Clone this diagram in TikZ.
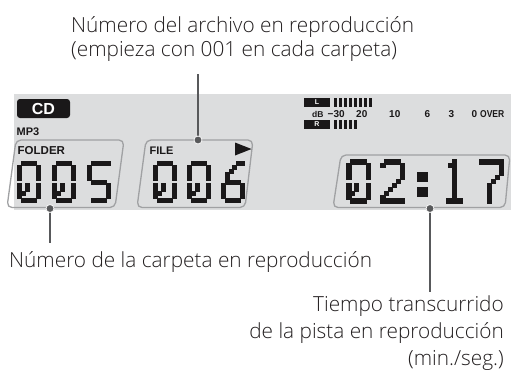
\documentclass[tikz,border=0pt]{standalone}
\usepackage{fontspec}
\setmainfont{Open Sans Light}
\newfontfamily\lcdfont{Liberation Sans}
\definecolor{lcdbg}{RGB}{220,221,222}
\definecolor{frame}{RGB}{160,161,163}
\definecolor{seg}{RGB}{26,24,25}
\definecolor{conn}{RGB}{88,89,91}
\definecolor{txt}{RGB}{35,31,32}
\newcommand\lcddigit[4]{%
  \begin{scope}[shift={(#1,#2)}]
    \foreach \c/\r in {#4} \fill[seg] (\c*#3-0.6,\r*#3-0.6) rectangle ++(#3+1.2,#3+1.2);
  \end{scope}}
\tikzset{
  lbl/.style={inner sep=0pt, font=\fontsize{20.8}{22}\selectfont, text=txt},
  lcdtxt/.style={inner sep=0pt, font=\lcdfont\bfseries, text=seg},
  lcdframe/.style={draw=frame, line width=1.3pt, rounded corners=5pt},
  conline/.style={draw=conn, line width=2.2pt},
  condot/.style={circle, fill=conn, draw=white!80!lcdbg, line width=0.8pt, minimum size=8pt, inner sep=0pt},
}
\begin{document}
\begin{tikzpicture}[x=1pt,y=-1pt]
\useasboundingbox (0,0) rectangle (511,376);
% LCD background
\fill[lcdbg] (14,94) rectangle (511,210);
% frames
\draw[lcdframe] (16,140) -- (124,140) -- (115,207.5) -- (7,207.5) -- cycle;
\draw[lcdframe] (146,140) -- (253,140) -- (245,207.5) -- (137,207.5) -- cycle;
\draw[lcdframe] (341,155) -- (510,155) -- (505,207.5) -- (333,207.5) -- cycle;
% CD badge
\fill[seg, rounded corners=3pt] (17,99) rectangle (70,118);
\node[lcdtxt, text=white, font=\lcdfont\bfseries\fontsize{16}{16}\selectfont] (cd) at (43.5,108.7) {CD};
\node[lcdtxt, anchor=base west, font=\lcdfont\bfseries\fontsize{11}{11}\selectfont] (mp3) at (16.5,135.5) {MP3};
\node[lcdtxt, anchor=base west, font=\lcdfont\bfseries\fontsize{11.5}{11}\selectfont] (folder) at (17.5,154.5) {FOLDER};
\node[lcdtxt, anchor=base west, font=\lcdfont\bfseries\fontsize{11}{11}\selectfont] (file) at (149.5,154.5) {FILE};
\fill[seg] (235,142.5) -- (251.5,149) -- (235,155.5) -- cycle;
% level meter
\fill[seg] (304,98) rectangle (330,106.5);
\node[lcdtxt, text=white, font=\lcdfont\bfseries\fontsize{7}{7}\selectfont] (lL) at (317,102.4) {L};
\foreach \i in {0,...,7} \fill[seg] (334+\i*5,98) rectangle ++(2.8,8.5);
\fill[seg] (304,120) rectangle (330,128.5);
\node[lcdtxt, text=white, font=\lcdfont\bfseries\fontsize{7}{7}\selectfont] (lR) at (317,124.4) {R};
\foreach \i in {0,...,4} \fill[seg] (334+\i*5,120) rectangle ++(2.8,8.5);
\begin{scope}[every node/.style={lcdtxt, anchor=base west, font=\lcdfont\bfseries\fontsize{10}{10}\selectfont}]
\node (db) at (312,117.5) {\fontsize{8.5}{8}\selectfont dB};
\node (m30) at (327.5,117.5) {\textminus30};
\node (s20) at (356,117.5) {20};
\node (s10) at (389,117.5) {10};
\node (s6) at (424.5,117.5) {6};
\node (s3) at (448.5,117.5) {3};
\node (s0) at (471.5,117.5) {0};
\node[xscale=0.85] (sover) at (480,117.5) {OVER};
\end{scope}
% digits: folder 005
\lcddigit{18}{162}{3.67}{1/0,2/0,3/0,4/0, 0/1,0/2,0/3,0/4, 5/1,5/2,5/3,5/4, 0/6,0/7,0/8,0/9, 5/6,5/7,5/8,5/9, 1/10,2/10,3/10,4/10, 1/8,2/7,2/6}
\lcddigit{53}{162}{3.67}{1/0,2/0,3/0,4/0, 0/1,0/2,0/3,0/4, 5/1,5/2,5/3,5/4, 0/6,0/7,0/8,0/9, 5/6,5/7,5/8,5/9, 1/10,2/10,3/10,4/10, 1/8,2/7,2/6}
\lcddigit{88}{162}{3.67}{1/0,2/0,3/0,4/0,5/0, 0/1,0/2,0/3,0/4, 1/5,2/5,3/5,4/5, 5/6,5/7,5/8,5/9, 1/10,2/10,3/10,4/10}
% file 006
\lcddigit{154}{162}{3.67}{1/0,2/0,3/0,4/0, 0/1,0/2,0/3,0/4, 5/1,5/2,5/3,5/4, 0/6,0/7,0/8,0/9, 5/6,5/7,5/8,5/9, 1/10,2/10,3/10,4/10, 1/8,2/7,2/6}
\lcddigit{188}{162}{3.67}{1/0,2/0,3/0,4/0, 0/1,0/2,0/3,0/4, 5/1,5/2,5/3,5/4, 0/6,0/7,0/8,0/9, 5/6,5/7,5/8,5/9, 1/10,2/10,3/10,4/10, 1/8,2/7,2/6}
\lcddigit{222}{162}{3.67}{4/0,5/0,3/1,2/2,1/3,1/4, 1/5,2/5,3/5,4/5, 0/6,0/7,0/8,0/9, 5/6,5/7,5/8,5/9, 1/10,2/10,3/10,4/10}
% time 02:17
\lcddigit{347}{160}{3.9}{1/0,2/0,3/0,4/0, 0/1,0/2,0/3,0/4, 5/1,5/2,5/3,5/4, 0/6,0/7,0/8,0/9, 5/6,5/7,5/8,5/9, 1/10,2/10,3/10,4/10, 1/8,2/7,2/6}
\lcddigit{381}{160}{3.9}{0/1, 1/0,2/0,3/0,4/0, 5/1,5/2,5/3,5/4, 4/5,3/6,2/7,1/8,0/9, 0/10,1/10,2/10,3/10,4/10,5/10}
\fill[seg] (416.5,171.5) rectangle (427.5,181.5);
\fill[seg] (416.5,186.5) rectangle (427.5,196.5);
\lcddigit{443}{160}{3.9}{2.5/0,2.5/1,2.5/2,2.5/3,2.5/4,2.5/5,2.5/6,2.5/7,2.5/8,2.5/9, 1.5/1, 1/10,2/10,3/10,4/10}
\lcddigit{480}{160}{3.9}{0/0,1/0,2/0,3/0,4/0,5/0, 5/1,5/2,5/3, 4/4,3/5, 2/6,2/7,2/8,2/9,2/10}
% labels
\node[lbl, anchor=base west] (top1) at (71,32) {Número del archivo en reproducción};
\node[lbl, anchor=base west] (top2) at (71,56) {(empieza con 001 en cada carpeta)};
\node[lbl, anchor=base west] (fold) at (9,267) {Número de la carpeta en reproducción};
\node[lbl, anchor=base east] (time1) at (504,311) {Tiempo transcurrido};
\node[lbl, anchor=base east] (time2) at (504,338) {de la pista en reproducción};
\node[lbl, anchor=base east] (time3) at (504,365) {(min./seg.)};
% connectors
\coordinate (fileend) at (198,74);
\coordinate (foldend) at (50,243);
\coordinate (timeend) at (430,292);
\coordinate (filept) at (198,140);
\coordinate (foldpt) at (50,208.5);
\coordinate (timept) at (430,208.5);
\draw[conline] (fileend) -- (filept);
\draw[conline] (foldpt) -- (foldend);
\draw[conline] (timept) -- (timeend);
\node[condot] (filedot) at (filept) {};
\node[condot] (folddot) at (foldpt) {};
\node[condot] (timedot) at (timept) {};
\end{tikzpicture}
\end{document}
